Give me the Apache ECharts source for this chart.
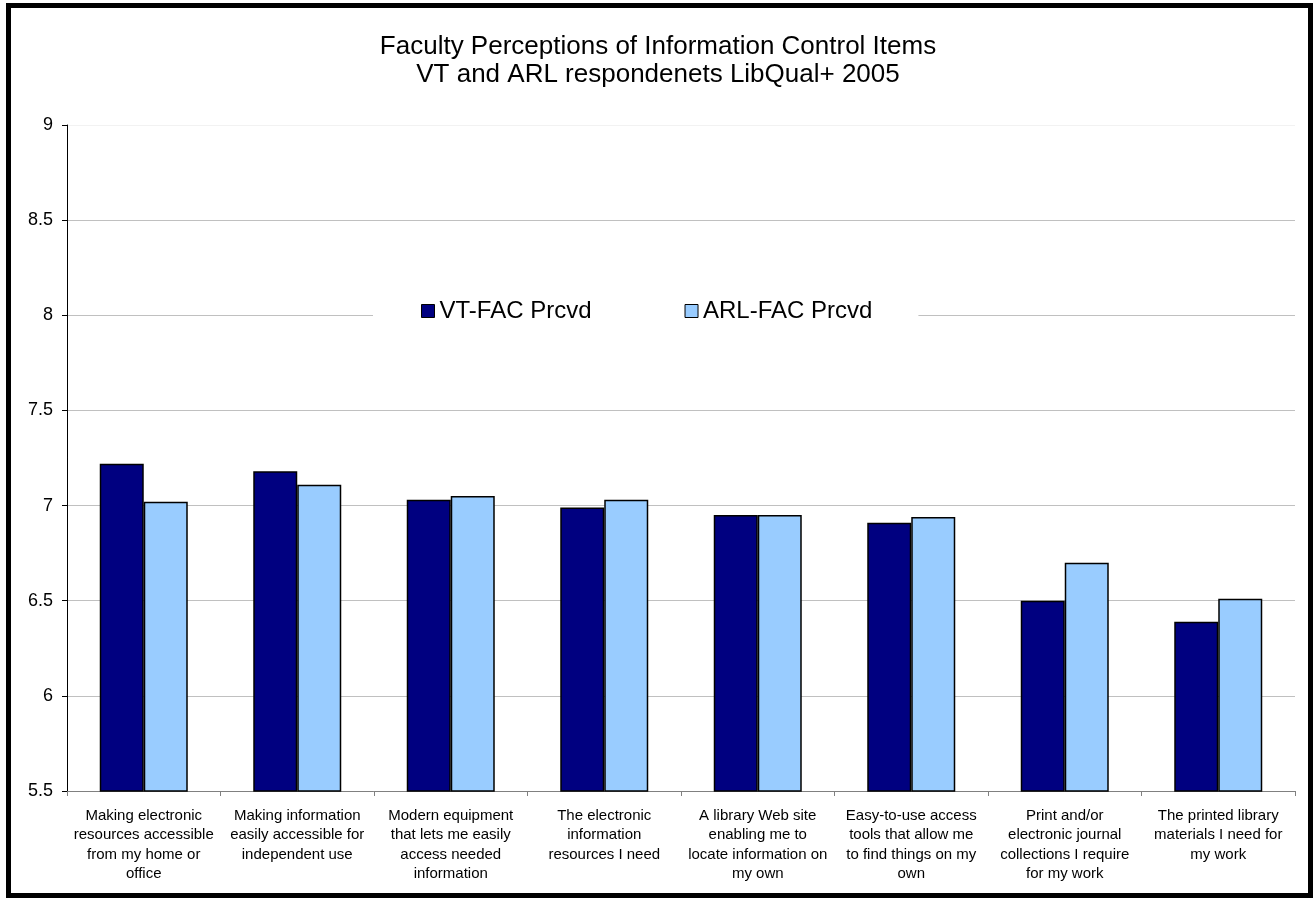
<!DOCTYPE html>
<html>
<head>
<meta charset="utf-8">
<script src="https://cdn.jsdelivr.net/npm/echarts@6/dist/echarts.min.js"></script>
<style>
  html, body { margin: 0; padding: 0; background: #fff; }
  #chart { width: 1316px; height: 900px; }
</style>
</head>
<body>
<div id="chart"></div>
<script>
// values
const categories = [
	"Making electronic\nresources accessible\nfrom my home or\noffice",
	"Making information\neasily accessible for\nindependent use",
	"Modern equipment\nthat lets me easily\naccess needed\ninformation",
	"The electronic\ninformation\nresources I need",
	"A library Web site\nenabling me to\nlocate information on\nmy own",
	"Easy-to-use access\ntools that allow me\nto find things on my\nown",
	"Print and/or\nelectronic journal\ncollections I require\nfor my work",
	"The printed library\nmaterials I need for\nmy work",
];
const seriesNames = ["VT-FAC Prcvd", "ARL-FAC Prcvd"];
const vtValues = [7.22, 7.18, 7.03, 6.99, 6.95, 6.91, 6.5, 6.39];
const arlValues = [7.02, 7.11, 7.05, 7.03, 6.95, 6.94, 6.7, 6.51];
const yMin = 5.5;
const yMax = 9;
const yStep = 0.5;

const chart = echarts.init(document.getElementById("chart"));

const option = {
	animation: false,
	backgroundColor: "#fff",
	textStyle: { fontFamily: "Liberation Sans, Arial, sans-serif", color: "#000" },
	title: {
		text: "Faculty Perceptions of Information Control Items\nVT and ARL respondenets LibQual+ 2005",
		left: "center",
		top: 33,
		padding: [0, 16, 0, 0],
		textStyle: {
			fontSize: 26,
			lineHeight: 28,
			fontWeight: "normal",
			color: "#000",
		},
	},
	legend: {
		data: seriesNames,
		left: 373,
		top: 291,
		padding: [8, 46, 8, 48],
		backgroundColor: "#fff",
		itemWidth: 13,
		itemHeight: 13,
		itemGap: 93,
		icon: "rect",
		itemStyle: { borderColor: "#000", borderWidth: 1 },
		textStyle: { fontSize: 24, color: "#000" },
	},
	grid: { left: 67, right: 21, top: 125, bottom: 109 },
	xAxis: {
		type: "category",
		data: categories,
		axisLine: { lineStyle: { color: "#808080", width: 1 } },
		axisTick: { show: true, length: 5, lineStyle: { color: "#808080" } },
		axisLabel: {
			interval: 0,
			margin: 15,
			fontSize: 15,
			lineHeight: 19.5,
			color: "#000",
			align: "center",
		},
	},
	yAxis: {
		type: "value",
		min: yMin,
		max: yMax,
		interval: yStep,
		axisLine: { show: true, lineStyle: { color: "#000", width: 1 } },
		axisTick: { show: true, length: 5, lineStyle: { color: "#000" } },
		axisLabel: { fontSize: 18, margin: 14, color: "#000" },
		splitLine: {
			show: true,
			lineStyle: {
				color: ["#c0c0c0", "#c0c0c0", "#c0c0c0", "#c0c0c0", "#c0c0c0", "#c0c0c0", "#c0c0c0", "#f2f2f2"],
				width: 1,
			},
		},
	},
	series: [
		{
			name: seriesNames[0],
			type: "bar",
			data: vtValues,
			barWidth: 44,
			barGap: "0%",
			itemStyle: { color: "#000080", borderColor: "#000", borderWidth: 1.5 },
		},
		{
			name: seriesNames[1],
			type: "bar",
			data: arlValues,
			barWidth: 44,
			barGap: "0%",
			itemStyle: { color: "#99ccff", borderColor: "#000", borderWidth: 1.5 },
		},
	],
	graphic: [
		{
			type: "rect",
			silent: true,
			z: 100,
			shape: { x: 8.5, y: 5.5, width: 1302, height: 890 },
			style: { fill: null, stroke: "#000", lineWidth: 5 },
		},
	],
};

chart.setOption(option);
</script>
</body>
</html>
